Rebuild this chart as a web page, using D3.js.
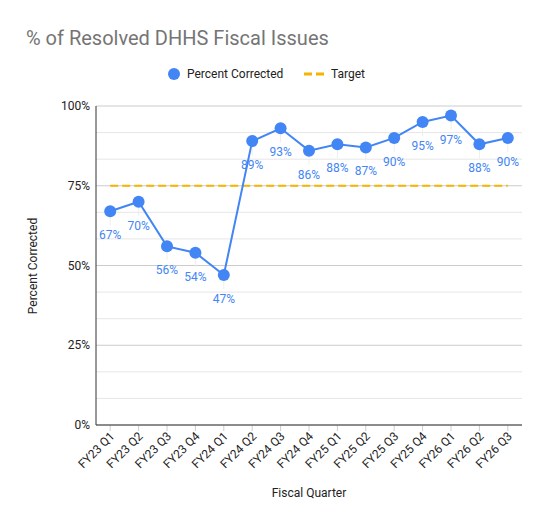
<!DOCTYPE html><html><head><script src="https://cdn.jsdelivr.net/npm/d3@7"></script>
<style>body{margin:0;background:#fff}text{font-family:Roboto,Arial,sans-serif}</style></head><body>
<svg id="c" width="549" height="526"></svg>
<script>
const categories=["FY23 Q1","FY23 Q2","FY23 Q3","FY23 Q4","FY24 Q1","FY24 Q2","FY24 Q3","FY24 Q4","FY25 Q1","FY25 Q2","FY25 Q3","FY25 Q4","FY26 Q1","FY26 Q2","FY26 Q3"];
const percentCorrected=[67,70,56,54,47,89,93,86,88,87,90,95,97,88,90];
const target=75;
const yTicks=[0,25,50,75,100];
const svg=d3.select("#c");
const L=96,R=522,T=106,B=425;
const x=d3.scaleBand().domain(categories).range([L,R]);
const y=d3.scaleLinear().domain([0,100]).range([B,T]);
const cx=d=>x(d)+x.bandwidth()/2;
svg.append("text").attr("x",26).attr("y",45).attr("font-size",20).attr("fill","#757575").text("% of Resolved DHHS Fiscal Issues");
// legend
svg.append("circle").attr("cx",174).attr("cy",74).attr("r",6).attr("fill","#4285f4");
svg.append("text").attr("x",187).attr("y",78).attr("font-size",12).attr("fill","#222").text("Percent Corrected");
svg.append("line").attr("x1",304).attr("x2",324).attr("y1",74).attr("y2",74).attr("stroke","#f4b400").attr("stroke-width",3).attr("stroke-dasharray","8,4");
svg.append("text").attr("x",331).attr("y",78).attr("font-size",12).attr("fill","#222").text("Target");
// grid
d3.range(0,101,100/12).forEach(v=>{svg.append("line").attr("x1",L).attr("x2",R).attr("y1",y(v)).attr("y2",y(v)).attr("stroke",v%25<0.01||v%25>24.99?"#ccc":"#e6e6e6");});
yTicks.forEach(v=>svg.append("text").attr("x",L-6).attr("y",y(v)+4).attr("text-anchor","end").attr("font-size",12).attr("fill","#222").text(v+"%"));
categories.forEach(c=>{svg.append("line").attr("x1",cx(c)).attr("x2",cx(c)).attr("y1",B).attr("y2",B+6).attr("stroke","#ccc");
 svg.append("text").attr("transform",`translate(${cx(c)+5},${B+12}) rotate(-45)`).attr("text-anchor","end").attr("font-size",12).attr("fill","#222").text(c);});
svg.append("line").attr("x1",L).attr("x2",L).attr("y1",T).attr("y2",B).attr("stroke","#333");
svg.append("line").attr("x1",L).attr("x2",R).attr("y1",B).attr("y2",B).attr("stroke","#333");
svg.append("line").attr("x1",cx(categories[0])).attr("x2",cx(categories[14])).attr("y1",y(target)).attr("y2",y(target)).attr("stroke","#f4b400").attr("stroke-width",2).attr("stroke-dasharray","8,4");
// leaders
categories.forEach((c,i)=>svg.append("line").attr("x1",cx(c)).attr("x2",cx(c)).attr("y1",y(percentCorrected[i])+6).attr("y2",y(percentCorrected[i])+14).attr("stroke","#eee"));
svg.append("path").attr("d",d3.line().x((d,i)=>cx(categories[i])).y(d=>y(d))(percentCorrected)).attr("fill","none").attr("stroke","#4285f4").attr("stroke-width",2);
categories.forEach((c,i)=>{svg.append("circle").attr("cx",cx(c)).attr("cy",y(percentCorrected[i])).attr("r",6).attr("fill","#4285f4");
 svg.append("text").attr("x",cx(c)).attr("y",y(percentCorrected[i])+28).attr("text-anchor","middle").attr("font-size",12).attr("fill","#4285f4").text(percentCorrected[i]+"%");});
svg.append("text").attr("transform","translate(37,266) rotate(-90)").attr("text-anchor","middle").attr("font-size",12).attr("fill","#222").text("Percent Corrected");
svg.append("text").attr("x",309).attr("y",497).attr("text-anchor","middle").attr("font-size",12).attr("fill","#222").text("Fiscal Quarter");
</script></body></html>
